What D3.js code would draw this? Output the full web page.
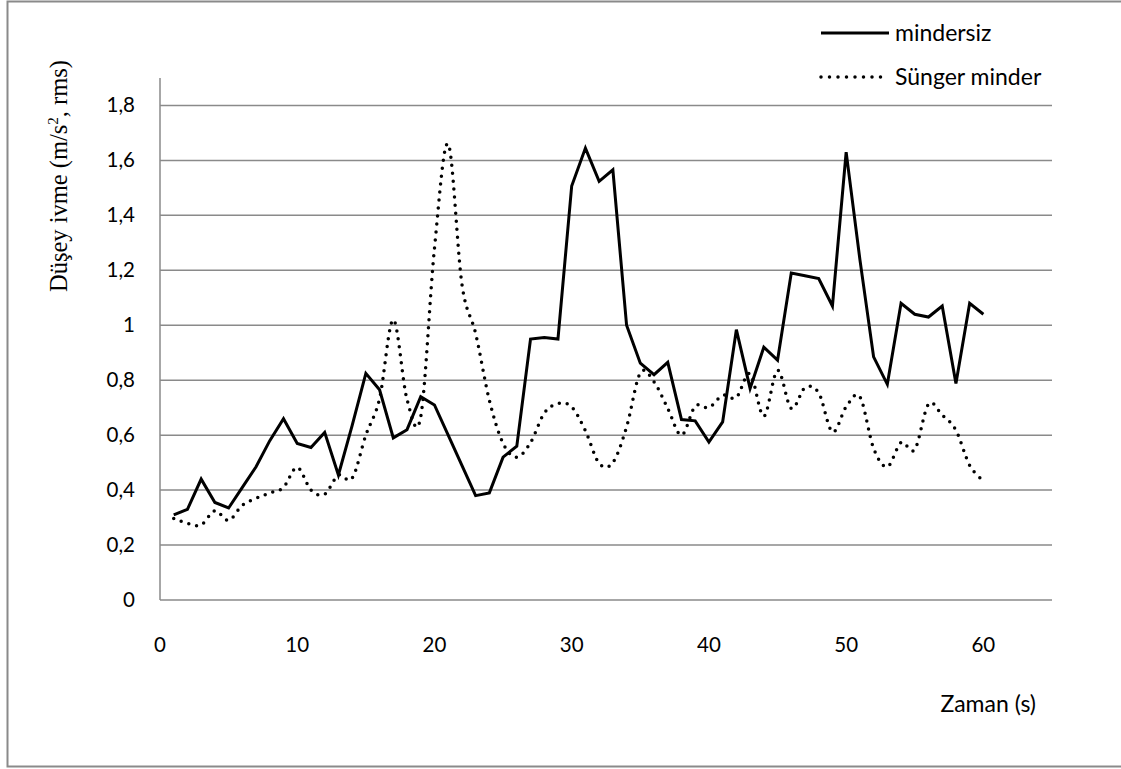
<!DOCTYPE html>
<html>
<head>
<meta charset="utf-8">
<script src="https://cdn.jsdelivr.net/npm/d3@7"></script>
<style>
  body { margin: 0; background: #fff; }
  svg { display: block; }
</style>
</head>
<body>
<svg class="chartContainer" width="1121" height="769"></svg>
<script>
// time points (s)
var seconds = d3.range(1, 61);

// mindersiz (solid)
var mindersiz = [0.31, 0.33, 0.44, 0.355, 0.335, 0.41, 0.485, 0.58, 0.66, 0.57,
  0.555, 0.61, 0.455, 0.635, 0.825, 0.765, 0.59, 0.62, 0.74, 0.71,
  0.60, 0.49, 0.38, 0.39, 0.52, 0.56, 0.95, 0.955, 0.95, 1.507,
  1.645, 1.524, 1.566, 1.0, 0.862, 0.82, 0.865, 0.657, 0.652, 0.575,
  0.648, 0.984, 0.77, 0.92, 0.873, 1.19, 1.18, 1.17, 1.07, 1.63,
  1.24, 0.885, 0.785, 1.08, 1.04, 1.03, 1.07, 0.788, 1.08, 1.04];

// Sünger minder (dotted)
var sunger = [0.297, 0.279, 0.273, 0.325, 0.29, 0.345, 0.37, 0.39, 0.41, 0.483,
  0.40, 0.385, 0.455, 0.443, 0.6, 0.733, 1.02, 0.73, 0.667, 1.28,
  1.66, 1.15, 0.97, 0.727, 0.57, 0.52, 0.573, 0.68, 0.715, 0.703,
  0.616, 0.497, 0.5, 0.63, 0.827, 0.794, 0.697, 0.6, 0.705, 0.70,
  0.745, 0.737, 0.824, 0.669, 0.836, 0.697, 0.773, 0.754, 0.612, 0.703,
  0.74, 0.552, 0.485, 0.573, 0.548, 0.713, 0.673, 0.618, 0.49, 0.434];

var xTicks = [0, 10, 20, 30, 40, 50, 60];
var yTicks = [0, 0.2, 0.4, 0.6, 0.8, 1, 1.2, 1.4, 1.6, 1.8];
var seriesNames = ["mindersiz", "Sünger minder"];

var svg = d3.select(".chartContainer");
var grid = "#8a8a8a";
var sans = "Lato, 'Open Sans', sans-serif";

// outer frame
svg.append("rect")
  .attr("x", 7.5).attr("y", 1.5)
  .attr("width", 1130).attr("height", 765)
  .style("fill", "none").style("stroke", grid).style("stroke-width", 2);

var x = d3.scaleLinear().domain([0, 65]).range([160, 1052]);
var y = d3.scaleLinear().domain([0, 1.9]).range([600, 78]);

var fmt = function (d) { return String(d).replace(".", ","); };

// gridlines
svg.append("g").selectAll("line")
  .data(yTicks.filter(function (d) { return d > 0; }))
  .enter().append("line")
  .attr("x1", x(0)).attr("x2", x(65))
  .attr("y1", function (d) { return y(d); })
  .attr("y2", function (d) { return y(d); })
  .style("stroke", grid).style("stroke-width", 1.5);

// axis lines
svg.append("line")
  .attr("x1", x(0)).attr("x2", x(65))
  .attr("y1", y(0)).attr("y2", y(0))
  .style("stroke", grid).style("stroke-width", 1.5);
svg.append("line")
  .attr("x1", x(0)).attr("x2", x(0))
  .attr("y1", y(0)).attr("y2", y(1.9))
  .style("stroke", grid).style("stroke-width", 1.5);

// tick labels
svg.append("g").selectAll("text")
  .data(yTicks).enter().append("text")
  .attr("x", 135)
  .attr("y", function (d) { return y(d) + 7; })
  .attr("text-anchor", "end")
  .style("font-family", sans)
  .style("font-size", "20.5px")
  .text(fmt);

svg.append("g").selectAll("text")
  .data(xTicks).enter().append("text")
  .attr("x", function (d) { return x(d); })
  .attr("y", 652)
  .attr("text-anchor", "middle")
  .style("font-family", sans)
  .style("font-size", "20.5px")
  .text(fmt);

// axis titles
svg.append("text")
  .attr("x", 1036).attr("y", 712)
  .attr("text-anchor", "end")
  .style("font-family", sans)
  .style("font-size", "23px")
  .text("Zaman (s)");

var yt = svg.append("text")
  .attr("transform", "translate(67,176) rotate(-90)")
  .attr("text-anchor", "middle")
  .style("font-family", "'Liberation Serif', serif")
  .style("font-size", "24.5px");
yt.append("tspan").text("Düşey ivme (m/s");
yt.append("tspan").attr("dy", -9).style("font-size", "15px").text("2");
yt.append("tspan").attr("dy", 9).text(", rms)");

// lines
var solidLine = d3.line()
  .x(function (d, i) { return x(seconds[i]); })
  .y(function (d) { return y(d); });

var smoothLine = d3.line()
  .x(function (d, i) { return x(seconds[i]); })
  .y(function (d) { return y(d); })
  .curve(d3.curveCardinal.tension(0));

svg.append("path")
  .datum(sunger)
  .attr("d", smoothLine)
  .style("fill", "none").style("stroke", "#000")
  .style("stroke-width", 3.5)
  .style("stroke-linecap", "round")
  .style("stroke-dasharray", "0 8");

svg.append("path")
  .datum(mindersiz)
  .attr("d", solidLine)
  .style("fill", "none").style("stroke", "#000")
  .style("stroke-width", 3)
  .style("stroke-linejoin", "miter");

// legend
var legend = svg.append("g");
legend.append("line")
  .attr("x1", 821).attr("x2", 889).attr("y1", 33).attr("y2", 33)
  .style("stroke", "#000").style("stroke-width", 3);
legend.append("line")
  .attr("x1", 821).attr("x2", 889).attr("y1", 77).attr("y2", 77)
  .style("stroke", "#000").style("stroke-width", 3.5)
  .style("stroke-linecap", "round").style("stroke-dasharray", "0 8.5");
legend.selectAll("text")
  .data(seriesNames).enter().append("text")
  .attr("x", 895)
  .attr("y", function (d, i) { return 41 + i * 44; })
  .style("font-family", sans)
  .style("font-size", "23px")
  .text(function (d) { return d; });
</script>
</body>
</html>
